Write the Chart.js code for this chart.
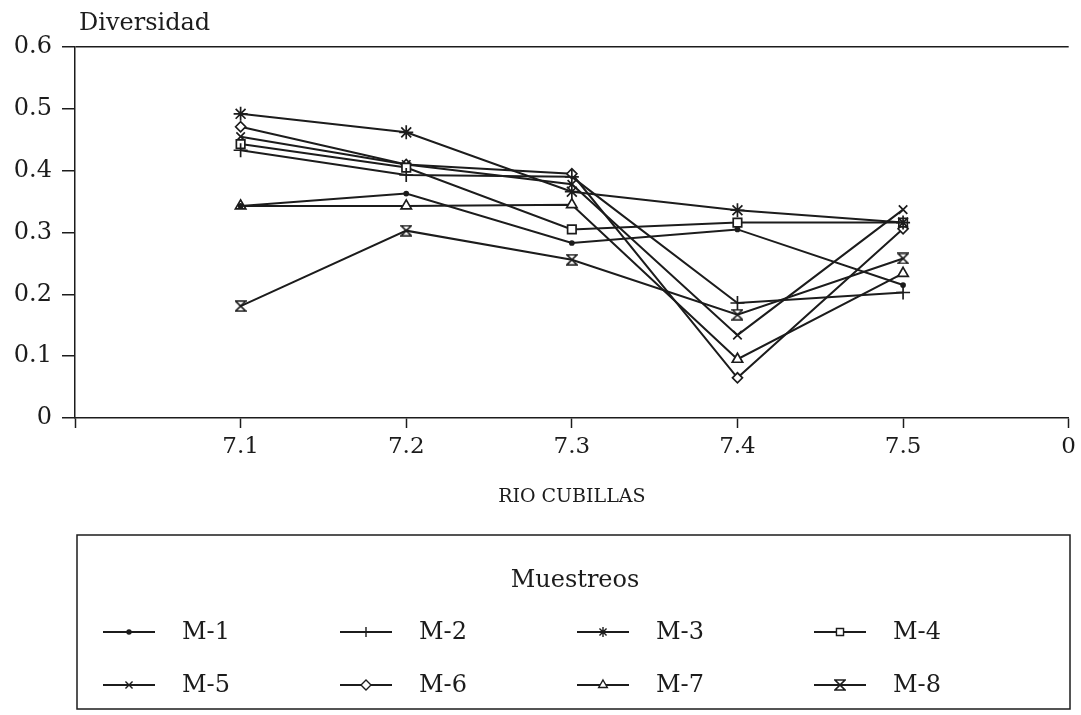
<!DOCTYPE html>
<html>
<head>
<meta charset="utf-8">
<script src="https://cdn.jsdelivr.net/npm/chart.js@4"></script>
<style>
  html, body { margin: 0; padding: 0; background: #fff; }
  #wrap { width: 1081px; height: 715px; }
</style>
</head>
<body>
<div id="wrap"><canvas id="diversidadChart" width="1081" height="715"></canvas></div>
<script>
// estaciones del rio (con huecos en los extremos del eje)
const estaciones = ['', '7.1', '7.2', '7.3', '7.4', '7.5', '0'];

// valores de diversidad por muestreo
const m1 = [0.343, 0.363, 0.283, 0.305, 0.215];
const m2 = [0.433, 0.393, 0.390, 0.186, 0.203];
const m3 = [0.492, 0.462, 0.366, 0.336, 0.316];
const m4 = [0.443, 0.405, 0.305, 0.316, 0.316];
const m5 = [0.455, 0.410, 0.378, 0.134, 0.337];
const m6 = [0.471, 0.410, 0.395, 0.065, 0.306];
const m7 = [0.343, 0.343, 0.345, 0.095, 0.234];
const m8 = [0.181, 0.303, 0.256, 0.167, 0.258];

const nombres = ['M-1', 'M-2', 'M-3', 'M-4', 'M-5', 'M-6', 'M-7', 'M-8'];
const series = [m1, m2, m3, m4, m5, m6, m7, m8];
const yTicks = [0, 0.1, 0.2, 0.3, 0.4, 0.5, 0.6];

const INK = '#1c1c1c';
const FUENTE = '"DejaVu Serif", "Liberation Serif", serif';

// marcador "reloj de arena" para M-8
function relojArena(size) {
    let c = document.createElement('canvas');
    c.width = size; c.height = size;
    let g = c.getContext('2d');
    g.strokeStyle = INK;
    g.fillStyle = INK;
    g.lineWidth = 1.6;
    g.beginPath();
    g.moveTo(1, 1); g.lineTo(size - 1, 1);
    g.lineTo(1, size - 1); g.lineTo(size - 1, size - 1);
    g.closePath();
    g.stroke();
    g.beginPath();
    g.moveTo(size / 2 - 2, size / 2 - 1); g.lineTo(size / 2 + 2, size / 2 - 1);
    g.lineTo(size / 2, size / 2 + 1);
    g.fill();
    return c;
}

const estilos = [
    { pointStyle: 'circle', radius: 2, fill: INK },
    { pointStyle: 'cross', radius: 7, fill: '#fff' },
    { pointStyle: 'star', radius: 7, fill: '#fff' },
    { pointStyle: 'rect', radius: 6, fill: '#fff' },
    { pointStyle: 'crossRot', radius: 6, fill: '#fff' },
    { pointStyle: 'rectRot', radius: 5, fill: '#fff' },
    { pointStyle: 'triangle', radius: 6, fill: '#fff' },
    { pointStyle: relojArena(12), radius: 6, fill: '#fff' }
];

let datasets = series.map((vals, i) => ({
    label: nombres[i],
    data: [null, ...vals, null],
    borderColor: INK,
    borderWidth: 2,
    pointStyle: estilos[i].pointStyle,
    pointRadius: estilos[i].radius,
    pointBorderColor: INK,
    pointBackgroundColor: estilos[i].fill,
    pointBorderWidth: 1.7,
    fill: false,
    tension: 0,
    spanGaps: false
}));

// leyenda en recuadro y titulo del eje Y
const leyendaPlugin = {
    id: 'leyendaRecuadro',
    afterDraw(chart) {
        const ctx = chart.ctx;
        ctx.save();
        ctx.fillStyle = INK;
        ctx.font = '24px ' + FUENTE;
        ctx.textBaseline = 'middle';
        ctx.textAlign = 'left';
        ctx.fillText('Diversidad', 79, 24);

        // recuadro
        ctx.strokeStyle = INK;
        ctx.lineWidth = 1.5;
        ctx.strokeRect(77, 535, 993, 174);

        ctx.textAlign = 'center';
        ctx.fillText('Muestreos', 575, 581);

        const colX = [103, 340, 577, 814];
        const filaY = [632, 685];
        chart.data.datasets.forEach((ds, i) => {
            const x = colX[i % 4];
            const y = filaY[Math.floor(i / 4)];
            ctx.strokeStyle = INK;
            ctx.lineWidth = 1.8;
            ctx.beginPath();
            ctx.moveTo(x, y);
            ctx.lineTo(x + 52, y);
            ctx.stroke();
            ctx.fillStyle = ds.pointBackgroundColor;
            ctx.lineWidth = 1.4;
            Chart.helpers.drawPoint(ctx, {
                pointStyle: ds.pointStyle,
                radius: Math.min(ds.pointRadius, 5),
                rotation: 0,
                borderWidth: 1.4
            }, x + 26, y);
            ctx.fillStyle = INK;
            ctx.textAlign = 'left';
            ctx.fillText(ds.label, x + 79, y + 1);
        });
        ctx.restore();
    }
};

let ctx = document.getElementById('diversidadChart').getContext('2d');
let diversidadChart = new Chart(ctx, {
    type: 'line',
    data: {
        labels: estaciones,
        datasets: datasets
    },
    options: {
        responsive: false,
        animation: false,
        layout: {
            padding: { top: 47, right: 11, bottom: 207, left: 0 }
        },
        plugins: {
            legend: { display: false },
            tooltip: { enabled: false }
        },
        scales: {
            x: {
                type: 'category',
                offset: false,
                afterFit(scale) { scale.height = 90; },
                border: { display: true, color: INK, width: 1.5 },
                grid: {
                    drawOnChartArea: false,
                    drawTicks: true,
                    tickLength: 10,
                    tickColor: INK,
                    tickWidth: 1.5
                },
                ticks: {
                    color: INK,
                    font: { family: FUENTE, size: 23 },
                    padding: 5,
                    maxRotation: 0,
                    autoSkip: false
                },
                title: {
                    display: true,
                    text: 'RIO CUBILLAS',
                    color: INK,
                    font: { family: FUENTE, size: 19 },
                    padding: { top: 0, bottom: 0 }
                }
            },
            y: {
                min: 0,
                max: 0.6,
                afterFit(scale) { scale.width = 75; },
                afterBuildTicks(scale) {
                    scale.ticks = yTicks.map(v => ({ value: v }));
                },
                border: { display: true, color: INK, width: 1.5 },
                grid: {
                    drawOnChartArea: true,
                    color: c => (c.tick && c.tick.value === 0.6) ? INK : 'rgba(0,0,0,0)',
                    lineWidth: 1.5,
                    tickLength: 13,
                    tickColor: INK,
                    tickWidth: 1.5
                },
                ticks: {
                    color: INK,
                    font: { family: FUENTE, size: 24 },
                    padding: 10,
                    callback: v => String(Math.round(v * 10) / 10)
                }
            }
        }
    },
    plugins: [leyendaPlugin]
});
</script>
</body>
</html>
